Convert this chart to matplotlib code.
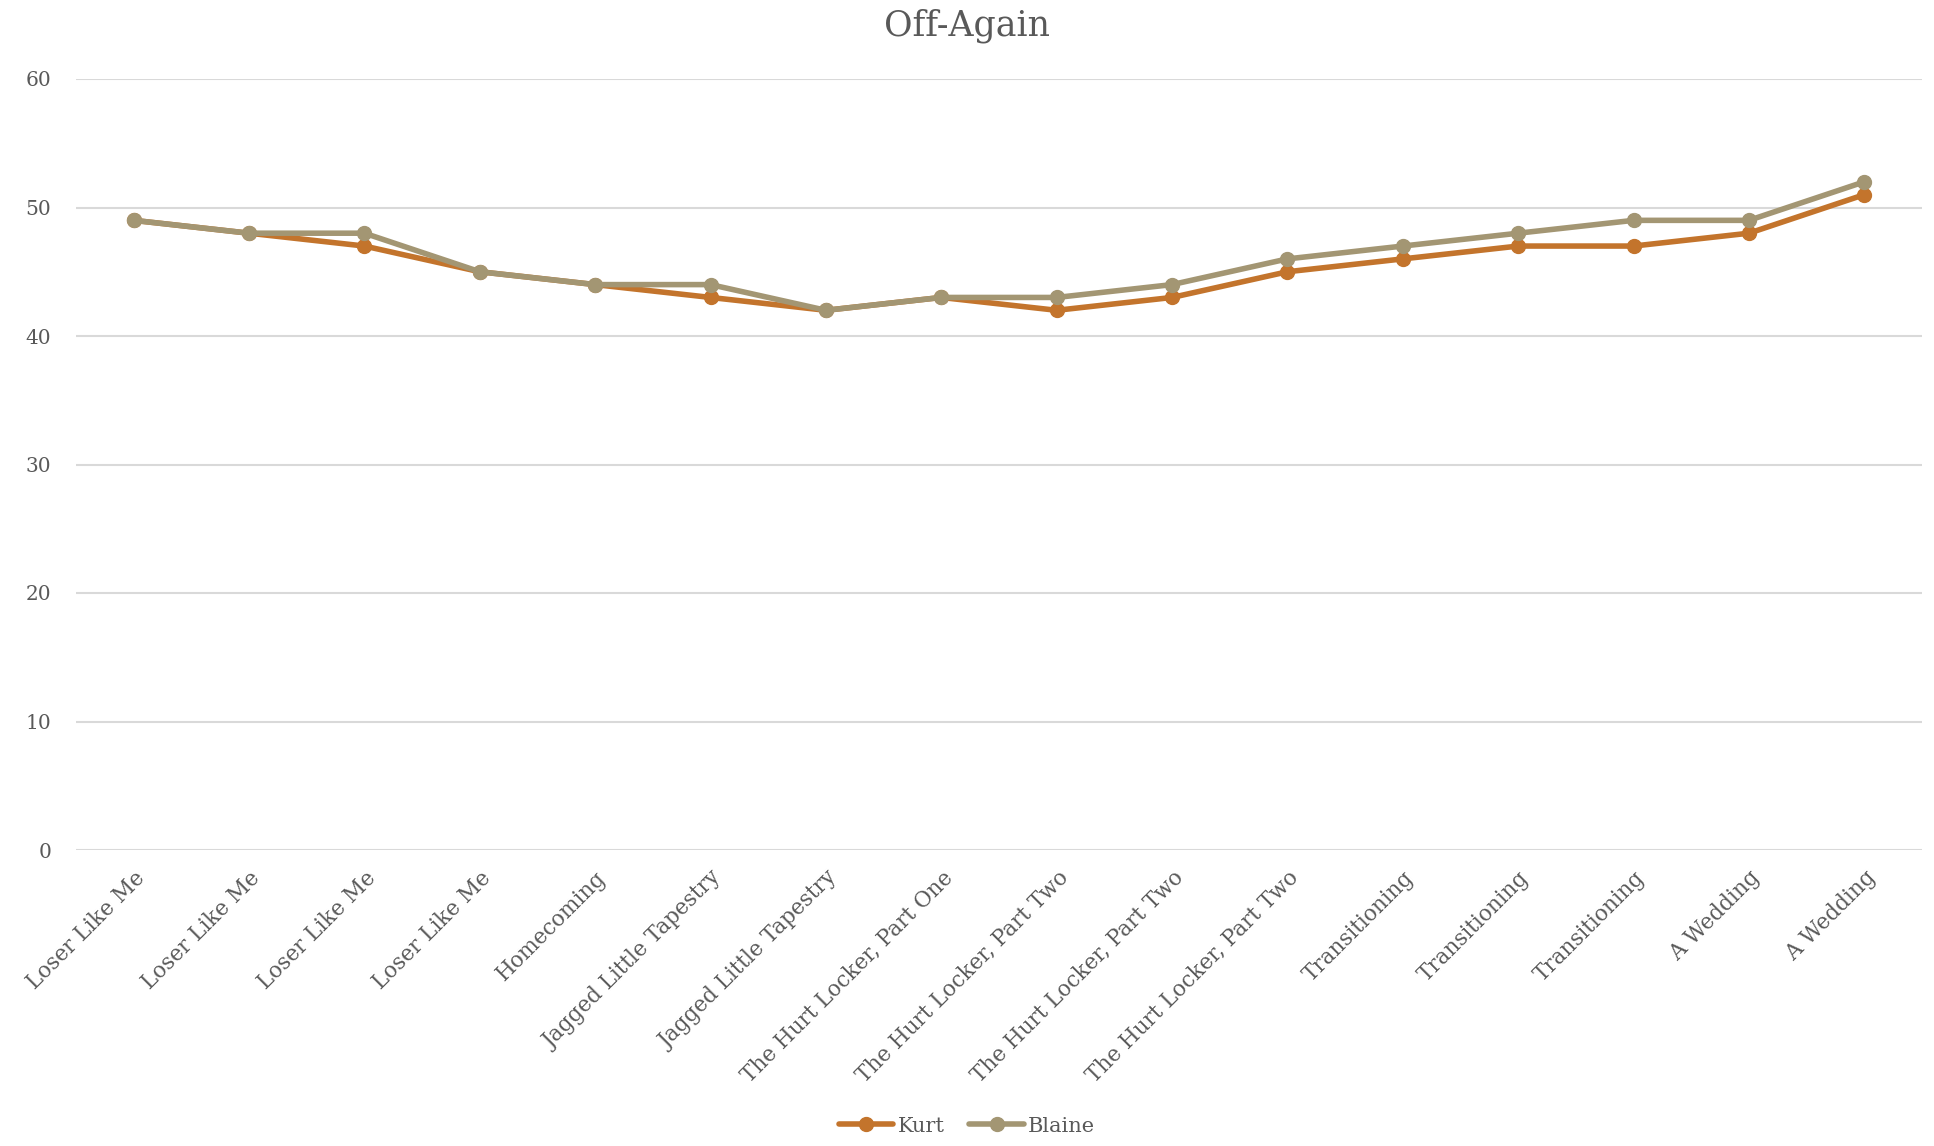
import matplotlib
matplotlib.use("Agg")
import matplotlib.pyplot as plt

categories = ["Loser Like Me", "Loser Like Me", "Loser Like Me", "Loser Like Me",
              "Homecoming", "Jagged Little Tapestry", "Jagged Little Tapestry",
              "The Hurt Locker, Part One", "The Hurt Locker, Part Two",
              "The Hurt Locker, Part Two", "The Hurt Locker, Part Two",
              "Transitioning", "Transitioning", "Transitioning", "A Wedding", "A Wedding"]
kurt = [49, 48, 47, 45, 44, 43, 42, 43, 42, 43, 45, 46, 47, 47, 48, 51]
blaine = [49, 48, 48, 45, 44, 44, 42, 43, 43, 44, 46, 47, 48, 49, 49, 52]
yticks = [0, 10, 20, 30, 40, 50, 60]

plt.rcParams['font.family'] = ['DejaVu Serif']
TXT = '#595959'
C_K = '#C3742C'
C_B = '#A39673'

fig = plt.figure(figsize=(19.34, 11.46), dpi=100)
ax = fig.add_axes([76/1934, 1-850/1146, (1922-76)/1934, (850-79)/1146])

x = list(range(len(categories)))
ax.plot(x, kurt, color=C_K, lw=4, marker='o', ms=10, label='Kurt', solid_capstyle='round')
ax.plot(x, blaine, color=C_B, lw=4, marker='o', ms=10, label='Blaine', solid_capstyle='round')

ax.set_xlim(-0.5, len(categories) - 0.5)
ax.set_ylim(0, 60)
ax.set_yticks(yticks)
ax.set_yticklabels([str(v) for v in yticks], fontsize=14.5, color=TXT)
ax.set_xticks(x)
ax.set_xticklabels(categories, rotation=45, ha='right', rotation_mode='anchor',
                   fontsize=15.5, color=TXT)
ax.tick_params(axis='both', length=0)
ax.tick_params(axis='x', pad=12)
ax.tick_params(axis='y', pad=18)
ax.grid(axis='y', color='#D9D9D9', lw=1.5)
ax.set_axisbelow(True)
for s in ax.spines.values():
    s.set_visible(False)

fig.text(0.5, 1-26/1146, 'Off-Again', ha='center', va='center', fontsize=25, color=TXT)

leg = fig.legend(loc='center', bbox_to_anchor=(0.5, 1-1126/1146), ncol=2, frameon=False,
                 fontsize=15, handlelength=2.6, handletextpad=0.2, columnspacing=1.2)
for t in leg.get_texts():
    t.set_color(TXT)

fig.savefig('out.png', dpi=100)
